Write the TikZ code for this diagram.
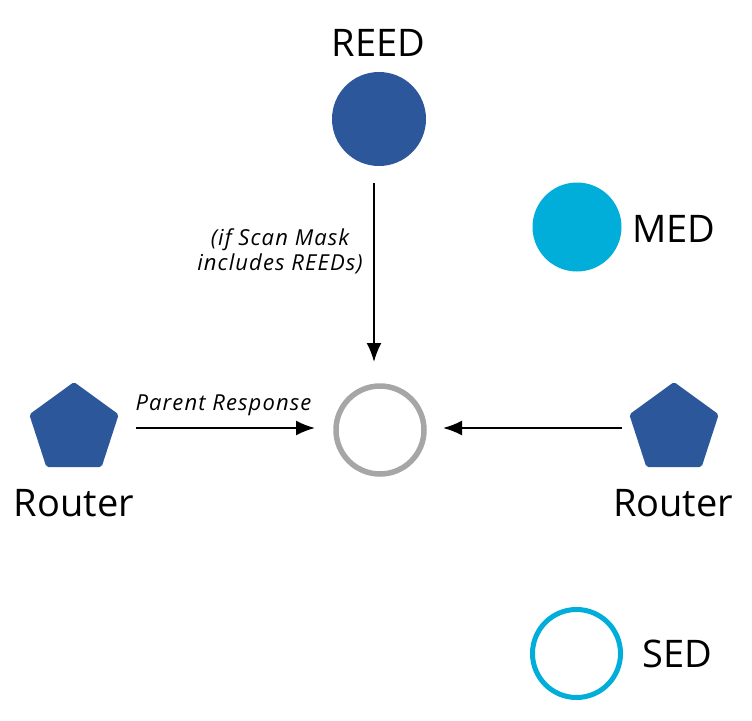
\documentclass[tikz,border=0pt]{standalone}
\usepackage{fontspec}
\setmainfont{Open Sans}
\usetikzlibrary{shapes.geometric,arrows.meta}
\definecolor{dblue}{HTML}{2C579A}
\definecolor{cyanc}{HTML}{00AED9}
\definecolor{grayc}{HTML}{A6A6A6}
\tikzset{
  big/.style={font=\fontsize{38}{40}\selectfont, inner sep=0pt, text=black},
  small/.style={font=\fontsize{22}{24}\selectfont\itshape\addfontfeature{LetterSpace=5}, inner sep=0pt, text=black},
  arr/.style={line width=2pt, -{Latex[length=19pt,width=15pt]}},
  router/.style={regular polygon, regular polygon sides=5, minimum size=94pt, inner sep=0pt, outer sep=0pt, fill=dblue, rounded corners=2pt},
}
\begin{document}
\begin{tikzpicture}[x=1pt,y=-1pt]
\useasboundingbox (0,0) rectangle (752,720);
% REED
\node[big, anchor=base] (reedlabel) at (378.5,56) {REED};
\node[circle, fill=dblue, minimum size=94pt, inner sep=0pt, outer sep=0pt] (reed) at (379,119) {};
% MED
\node[circle, fill=cyanc, minimum size=89pt, inner sep=0pt, outer sep=0pt] (med) at (577,227) {};
\node[big, anchor=base west] (medlabel) at (632,242) {MED};
% child
\node[circle, draw=grayc, line width=5.5pt, minimum size=88pt, inner sep=0pt, outer sep=0pt] (child) at (380,430) {};
% routers
\node[router] (routerL) at (74,429) {};
\node[router] (routerR) at (674,429) {};
\node[big, anchor=base] (routerLlabel) at (74,516) {Router};
\node[big, anchor=base] (routerRlabel) at (673,516) {Router};
% SED
\node[circle, draw=cyanc, line width=5pt, minimum size=88pt, inner sep=0pt, outer sep=0pt] (sed) at (576.5,653.5) {};
\node[big, anchor=base west] (sedlabel) at (642,667) {SED};
% labels
\node[small, anchor=base] (scan1) at (280,245) {(if Scan Mask};
\node[small, anchor=base] (scan2) at (280,270) {includes REEDs)};
\node[small, anchor=base] (parent) at (223.5,410) {Parent Response};
% arrows
\draw[arr, shorten <=64pt, shorten >=68pt] ([xshift=-5pt]reed.center) -- ([xshift=-6pt]child.center);
\draw[arr, shorten <=62pt, shorten >=65pt] ([yshift=1pt]routerL.center) -- ([yshift=2pt]child.center);
\draw[arr, shorten <=52pt, shorten >=63pt] ([yshift=1pt]routerR.center) -- ([yshift=2pt]child.center);
\end{tikzpicture}
\end{document}
